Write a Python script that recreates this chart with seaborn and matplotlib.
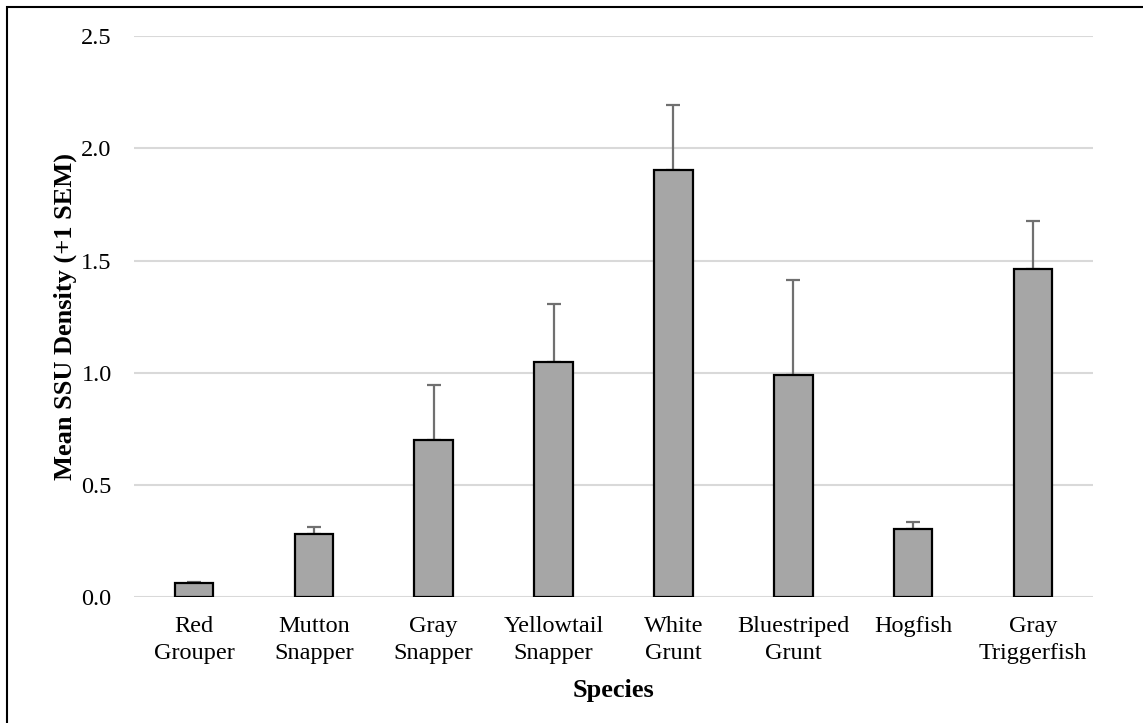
import numpy as np
import pandas as pd
import matplotlib
matplotlib.use("Agg")
import matplotlib.pyplot as plt
import seaborn as sns
from matplotlib.patches import Rectangle

# -- Data ---------------------------------------------------------------
species = [
    "Red\nGrouper", "Mutton\nSnapper", "Gray\nSnapper", "Yellowtail\nSnapper",
    "White\nGrunt", "Bluestriped\nGrunt", "Hogfish", "Gray\nTriggerfish",
]
mean_density = [0.063, 0.284, 0.703, 1.050, 1.902, 0.991, 0.304, 1.461]
sem = [0.007, 0.030, 0.244, 0.255, 0.291, 0.423, 0.033, 0.214]
y_ticks = [0.0, 0.5, 1.0, 1.5, 2.0, 2.5]

df = pd.DataFrame({"species": species, "mean": mean_density, "sem": sem})

sns.set_style("white")
plt.rcParams["font.family"] = ["Liberation Serif", "DejaVu Serif"]
plt.rcParams["text.color"] = "black"
plt.rcParams["axes.labelcolor"] = "black"

fig = plt.figure(figsize=(11.43, 7.23), dpi=100)
ax = fig.add_axes([0.1172, 0.1736, 0.8391, 0.7766])

sns.barplot(
    data=df, x="species", y="mean", color="#a6a6a6", width=0.32,
    edgecolor="black", linewidth=1.6, saturation=1, errorbar=None, ax=ax,
    zorder=3,
)
ax.errorbar(
    np.arange(len(df)), df["mean"], yerr=[np.zeros(len(df)), df["sem"]],
    fmt="none", ecolor="#707070", elinewidth=1.6, capsize=4.7, capthick=1.6,
    zorder=2,
)

ax.set_ylim(0, 2.5)
ax.set_yticks(y_ticks)
ax.set_yticklabels([f"{t:.1f}" for t in y_ticks])
ax.set_xlim(-0.5, len(df) - 0.5)
ax.set_xticks(np.arange(len(df)))
ax.set_xticklabels(species, linespacing=1.4)
ax.grid(axis="y", color="#d9d9d9", linewidth=1.5, zorder=0)
ax.set_axisbelow(True)
for s in ax.spines.values():
    s.set_visible(False)
ax.tick_params(axis="both", length=0, labelsize=17.5, colors="black")
ax.tick_params(axis="y", pad=16)
ax.tick_params(axis="x", pad=13)

ax.set_xlabel("Species", fontsize=19, fontweight="bold", labelpad=11, color="black")
ax.set_ylabel("Mean SSU Density (+1 SEM)", fontsize=19, fontweight="bold",
              labelpad=3, color="black")

# outer frame
fig.patches.append(Rectangle(
    (7 / 1143, -0.05), 1.2, 1 - 7 / 723 + 0.05, transform=fig.transFigure,
    fill=False, edgecolor="black", linewidth=1.5,
))

fig.savefig("out.png", dpi=100)
